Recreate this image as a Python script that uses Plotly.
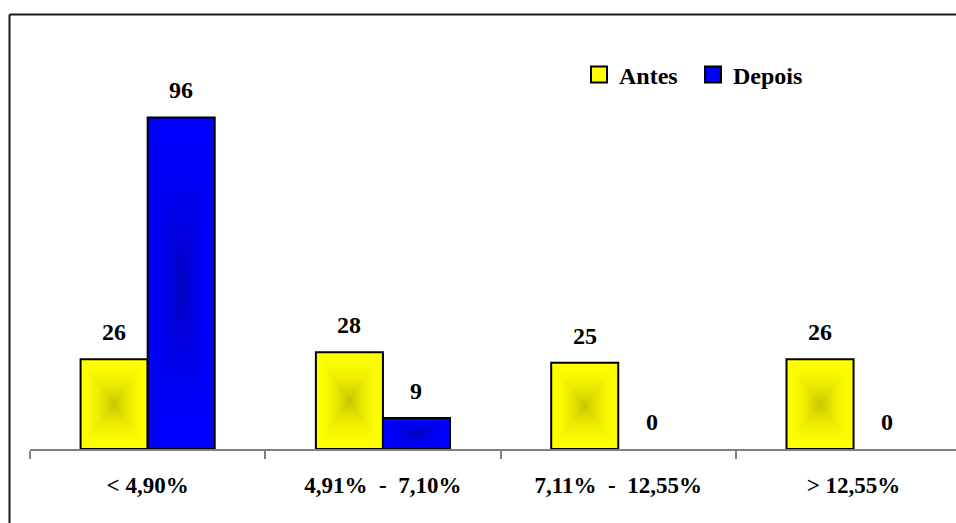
import plotly.graph_objects as go

# Data
categories = ["< 4,90%", "4,91%\u00a0\u00a0-\u00a0\u00a07,10%", "7,11%\u00a0\u00a0-\u00a0\u00a012,55%", "> 12,55%"]
antes = [26, 28, 25, 26]
depois = [96, 9, 0, 0]
series_names = ["Antes", "Depois"]

SERIF = "Liberation Serif"
LABEL_FONT = dict(family=SERIF, size=24, color="black", weight="bold")
TICK_FONT = dict(family=SERIF, size=23, color="black", weight="bold")
BAR_GAP = 0.43
BAR_W = (1 - BAR_GAP) / 2
X_MAX = -0.5 + 926 / 235.3

# edge colour, centre colour for the "from centre" gradient fill
palette = {
    "Antes": ((255, 255, 0), (196, 196, 0)),
    "Depois": ((0, 0, 255), (0, 0, 190)),
}

fig = go.Figure()

offsets = [-BAR_W / 2, BAR_W / 2]
for name, values, off in zip(series_names, [antes, depois], offsets):
    # outlines of the bars (fill comes from gradient shapes underneath)
    fig.add_trace(go.Bar(
        x=list(range(len(categories))), y=values, name=name, showlegend=False,
        marker=dict(color="rgba(0,0,0,0)",
                    line=dict(color="black", width=[2 if v > 0 else 0 for v in values])),
        hoverinfo="skip",
    ))
    # legend swatch
    edge, _ = palette[name]
    fig.add_trace(go.Scatter(
        x=[None], y=[None], mode="markers", name=name,
        marker=dict(symbol="square", size=16, color="rgb(%d,%d,%d)" % edge,
                    line=dict(color="black", width=2)),
    ))

# gradient fill: nested rectangles darkening toward the centre of each bar
N = 28
def shade(edge, center, t):
    return "rgb(%d,%d,%d)" % tuple(round(e + (c - e) * t) for e, c in zip(edge, center))

shapes = []
for name, values, off in zip(series_names, [antes, depois], offsets):
    edge, center = palette[name]
    for i, v in enumerate(values):
        if v <= 0:
            continue
        xc, yc = i + off, v / 2
        for k in range(N):
            f = 1 - k / N
            t = (k / N) ** 1.8
            shapes.append(dict(
                type="rect", xref="x", yref="y", layer="below",
                x0=xc - BAR_W / 2 * f, x1=xc + BAR_W / 2 * f,
                y0=yc - v / 2 * f, y1=yc + v / 2 * f,
                fillcolor=shade(edge, center, t), line=dict(width=0),
            ))

# outer frame: left edge and top edge as two separate lines
fx0, fx1, fy1 = (9.5 - 30) / 926, (956 - 30) / 926, (449 - 14.5) / 429
frame_line = dict(color="#1a1a1a", width=2)
shapes.append(dict(type="line", xref="paper", yref="paper",
                   x0=fx0, x1=fx0, y0=-0.2, y1=fy1, line=frame_line, layer="above"))
shapes.append(dict(type="line", xref="paper", yref="paper",
                   x0=fx0, x1=fx1, y0=fy1, y1=fy1, line=frame_line, layer="above"))

# value labels
annotations = []
for values, off in zip([antes, depois], offsets):
    for i, v in enumerate(values):
        annotations.append(dict(
            x=i + off, y=v, xref="x", yref="y", text=str(v), showarrow=False,
            yanchor="middle", yshift=27, font=LABEL_FONT,
        ))

fig.update_layout(
    width=956, height=523,
    margin=dict(l=30, r=0, t=20, b=74),
    paper_bgcolor="white", plot_bgcolor="white",
    barmode="group", bargap=BAR_GAP, bargroupgap=0,
    shapes=shapes, annotations=annotations,
    showlegend=True,
    legend=dict(
        orientation="h", x=(579 - 30) / 926, xanchor="left",
        y=(449 - 75) / 429, yanchor="middle",
        font=LABEL_FONT, bgcolor="rgba(0,0,0,0)", itemwidth=30,
        entrywidth=69, entrywidthmode="pixels",
        traceorder="normal",
    ),
    xaxis=dict(
        range=[-0.5, X_MAX], tickvals=list(range(len(categories))), ticktext=categories,
        ticks="", showline=True, linecolor="#808080", linewidth=2,
        showgrid=False, zeroline=False, tickfont=TICK_FONT, ticklabelstandoff=14,
        minor=dict(tickvals=[-0.5, 0.5, 1.5, 2.5, 3.5], ticks="outside", ticklen=8,
                   tickcolor="#808080", tickwidth=1.5, showgrid=False),
    ),
    yaxis=dict(range=[0, 124.2], visible=False),
)

fig.write_html("out.html")
